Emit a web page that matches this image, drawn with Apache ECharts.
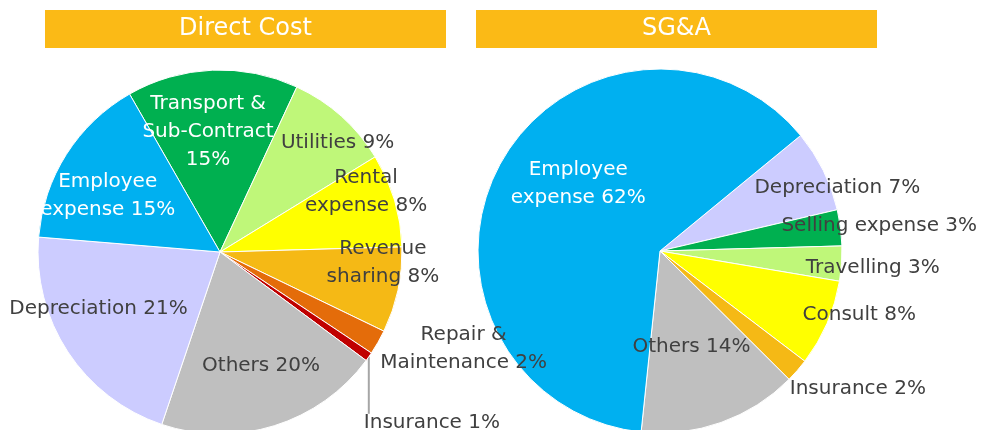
<!DOCTYPE html>
<html>
<head>
<meta charset="utf-8">
<script src="https://cdn.jsdelivr.net/npm/echarts@6/dist/echarts.min.js"></script>
<style>
  html, body { margin: 0; padding: 0; background: #fff; }
  #chart { width: 982px; height: 430px; }
</style>
</head>
<body>
<div id="chart"></div>
<script>
// ---- Data ----
const titles = ['Direct Cost', 'SG&A'];

const dcCategories = ['Transport &\nSub-Contract', 'Utilities', 'Rental\nexpense', 'Revenue\nsharing',
  'Repair &\nMaintenance', 'Insurance', 'Others', 'Depreciation', 'Employee\nexpense'];
const dcValues = [15.2, 9.3, 8.3, 7.6, 2.2, 0.8, 20.0, 21.1, 15.4];

const sgaCategories = ['Depreciation', 'Selling expense', 'Travelling', 'Consult', 'Insurance', 'Others', 'Employee\nexpense'];
const sgaValues = [7.3, 3.2, 3.1, 7.7, 2.1, 14.2, 62.4];

// ---- Styles ----
const dcColors = ['#00B050', '#BFF779', '#FFFF00', '#F5B915', '#E46C0A', '#C00000', '#BFBFBF', '#CCCCFF', '#00B0F0'];
const sgaColors = ['#CCCCFF', '#00B050', '#BFF779', '#FFFF00', '#F5B915', '#BFBFBF', '#00B0F0'];
const dark = '#404040';
const dcTextColors = ['#fff', dark, dark, dark, dark, dark, dark, dark, '#fff'];
const sgaTextColors = [dark, dark, dark, dark, dark, dark, '#fff'];
const dcSeps = ['\n', ' ', ' ', ' ', ' ', ' ', ' ', ' ', ' '];
const dcOffsets = [[-8, -26], [55, -39], [56, -33], [71, -9], [162, 50], [0, 0], [13, 24], [-43, 5], [-33, -6]];
const sgaOffsets = [[93, -22], [126, -13], [119, 10], [113, 26], [127, 76], [0, 7], [1, -23]];
const FONT = '"DejaVu Sans", Verdana, sans-serif';

function makeData(cats, vals, colors, textColors, seps, outsideIdx) {
  return cats.map((c, i) => {
    const item = {
      name: c,
      value: vals[i],
      itemStyle: { color: colors[i] },
      label: {
        color: textColors[i],
        formatter: c + (seps ? seps[i] : ' ') + Math.round(vals[i]) + '%'
      }
    };
    if (i === outsideIdx) {
      item.label.position = 'outside';
      item.label.align = 'left';
      item.labelLine = { show: true, lineStyle: { color: '#A6A6A6', width: 2 } };
    }
    return item;
  });
}

const chart = echarts.init(document.getElementById('chart'), null, { renderer: 'canvas' });

const baseSeries = {
  type: 'pie',
  clockwise: true,
  avoidLabelOverlap: false,
  itemStyle: { borderColor: '#fff', borderWidth: 1 },
  label: {
    show: true,
    position: 'inside',
    fontFamily: FONT,
    fontSize: 20,
    lineHeight: 28,
    align: 'center'
  },
  labelLine: { show: false },
  emphasis: { disabled: true },
  animation: false
};

const option = {
  backgroundColor: '#fff',
  animation: false,
  graphic: [
    { type: 'rect', shape: { x: 45, y: 10, width: 401, height: 38 }, style: { fill: '#FBBA16' } },
    { type: 'text', x: 245.5, y: 29, style: { text: titles[0], fill: '#fff', font: '24px ' + FONT, align: 'center', verticalAlign: 'middle' } },
    { type: 'rect', shape: { x: 476, y: 10, width: 401, height: 38 }, style: { fill: '#FBBA16' } },
    { type: 'text', x: 676.5, y: 29, style: { text: titles[1], fill: '#fff', font: '24px ' + FONT, align: 'center', verticalAlign: 'middle' } }
  ],
  series: [
    Object.assign({}, baseSeries, {
      z: 3,
      center: [220, 252],
      radius: 182,
      startAngle: 119.8,
      data: makeData(dcCategories, dcValues, dcColors, dcTextColors, dcSeps, 5),
      labelLayout: function (p) {
        if (p.dataIndex === 5) {
          const p0 = p.labelLinePoints ? p.labelLinePoints[0] : [369, 360];
          return {
            x: p0[0] - 5, y: p0[1] + 66, align: 'left', verticalAlign: 'middle',
            labelLinePoints: [p0, [p0[0], p0[1] + 57], [p0[0], p0[1] + 57]]
          };
        }
        const o = dcOffsets[p.dataIndex];
        return { dx: o[0], dy: o[1] };
      }
    }),
    Object.assign({}, baseSeries, {
      z: 2,
      center: [660, 251],
      radius: 182,
      startAngle: 39.4,
      data: makeData(sgaCategories, sgaValues, sgaColors, sgaTextColors, null, -1),
      labelLayout: function (p) {
        const o = sgaOffsets[p.dataIndex];
        return { dx: o[0], dy: o[1] };
      }
    })
  ]
};

chart.setOption(option);
</script>
</body>
</html>
